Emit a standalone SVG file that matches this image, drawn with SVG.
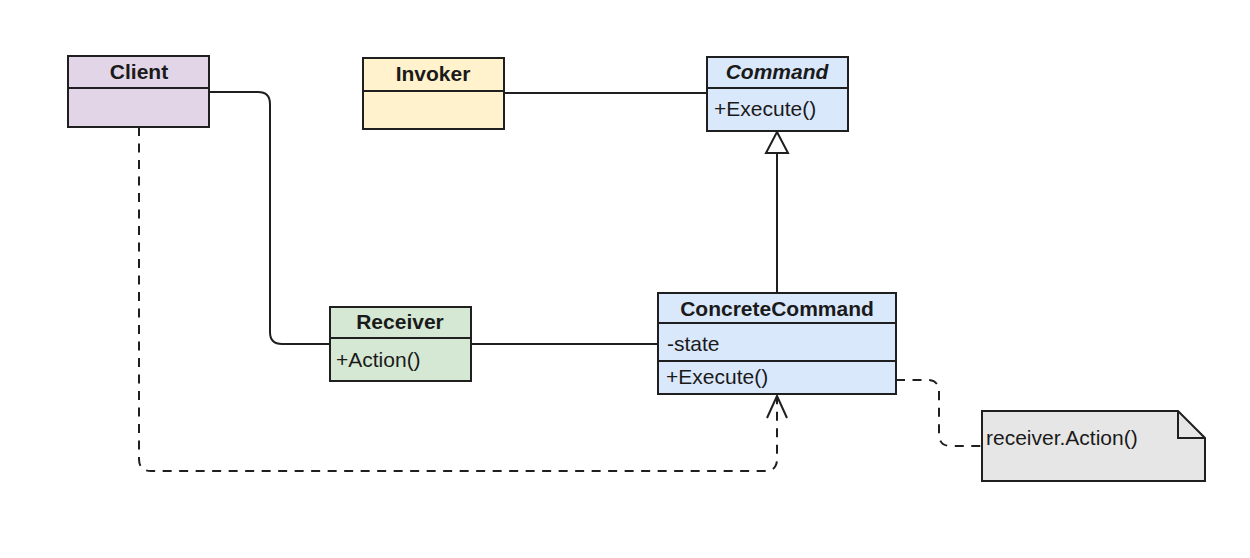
<svg xmlns="http://www.w3.org/2000/svg" width="1250" height="558" viewBox="0 0 1250 558">
<defs>
<style>
.box{stroke:#1f1f1f;stroke-width:2}
.t{font-family:"Liberation Sans",Arial,sans-serif;font-size:21px;fill:#1a1a1a}
.h{font-weight:bold;text-anchor:middle}
.ln{fill:none;stroke:#1f1f1f;stroke-width:2}
.dash{stroke-dasharray:9 7.5}
</style>
</defs>
<rect width="1250" height="558" fill="#ffffff"/>
<g id="connectors">
<path class="ln" d="M210 92 H258 Q270 92 270 104 V332 Q270 344 282 344 H330"/>
<path class="ln" d="M504 93 H707"/>
<path class="ln" d="M471 344 H658"/>
<path class="ln" d="M777 153 V293"/>
<polygon points="777,132 766,153 788,153" fill="#ffffff" stroke="#1f1f1f" stroke-width="2"/>
<path class="ln dash" d="M139 127 V459 Q139 471 151 471 H765 Q777 471 777 459 V396"/>
<path class="ln" d="M767 418 L777 396 L787 418"/>
<path class="ln dash" d="M896 380 H927 Q939 380 939 392 V434 Q939 446 951 446 H982"/>
</g>
<g id="client">
<rect class="box" x="68" y="56" width="141" height="71" fill="#e1d5e7"/>
<line class="box" x1="68" y1="88" x2="209" y2="88"/>
<text class="t h" x="139" y="79">Client</text>
</g>
<g id="invoker">
<rect class="box" x="363" y="58" width="141" height="71" fill="#fff2cc"/>
<line class="box" x1="363" y1="91" x2="504" y2="91"/>
<text class="t h" x="433" y="81">Invoker</text>
</g>
<g id="command">
<rect class="box" x="707" y="57" width="141" height="74" fill="#dae8fc"/>
<line class="box" x1="707" y1="88" x2="848" y2="88"/>
<text class="t h" x="777" y="79" font-style="italic">Command</text>
<text class="t" x="714" y="116">+Execute()</text>
</g>
<g id="receiver">
<rect class="box" x="330" y="307" width="141" height="74" fill="#d5e8d4"/>
<line class="box" x1="330" y1="338" x2="471" y2="338"/>
<text class="t h" x="400" y="329">Receiver</text>
<text class="t" x="336" y="367">+Action()</text>
</g>
<g id="concretecommand">
<rect class="box" x="658" y="293" width="238" height="101" fill="#dae8fc"/>
<line class="box" x1="658" y1="323" x2="896" y2="323"/>
<line class="box" x1="658" y1="361" x2="896" y2="361"/>
<text class="t h" x="777" y="316">ConcreteCommand</text>
<text class="t" x="667" y="351">-state</text>
<text class="t" x="666" y="384">+Execute()</text>
</g>
<g id="note">
<path class="box" d="M982 411 H1178 L1205 438 V481 H982 Z" fill="#e6e6e6"/>
<path class="ln" d="M1178 411 V438 H1205"/>
<text class="t" x="986" y="445">receiver.Action()</text>
</g>
</svg>
